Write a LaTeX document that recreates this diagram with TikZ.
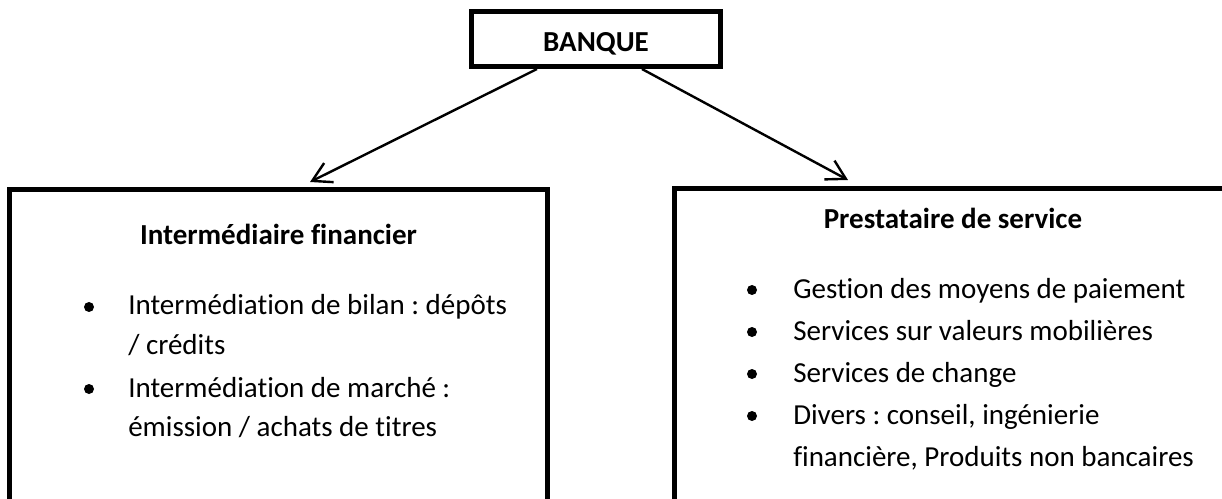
\documentclass[tikz,border=0pt]{standalone}
\usepackage{fontspec}
\setmainfont{Carlito}[Ligatures={NoCommon,NoContextual}]
\usetikzlibrary{arrows.meta}
\frenchspacing
\begin{document}
\begin{tikzpicture}[x=0.75pt,y=-0.75pt,
  frame/.style={draw, line width=3.75pt, inner sep=0pt},
  conn/.style={line width=1.8pt, -{Straight Barb[length=14pt,width=16pt,line width=1.8pt]}},
  txt/.style={inner sep=0pt, font=\fontsize{21.75pt}{31.5pt}\selectfont},
  head/.style={inner sep=0pt, font=\fontsize{21.75pt}{31.5pt}\selectfont\bfseries, anchor=base},
  item/.style={txt, anchor=base west},
  dot/.style={circle, fill, inner sep=0pt, minimum size=7.5pt}]
\useasboundingbox (0,0) rectangle (1222,499);
\clip (0,0) rectangle (1222,499);

% top box
\node[frame, minimum width=186.75pt, minimum height=40.9pt,
      text height=19.1pt, text depth=0pt,
      font=\fontsize{21.75pt}{31.5pt}\selectfont\bfseries] (banque) at (596,39.25) {BANQUE};

% the two role boxes (their lower and right sides run off the page)
\node[frame, minimum width=403.5pt, minimum height=277.9pt] (inter) at (278.5,374.75) {};
\node[frame, minimum width=417.75pt, minimum height=278.6pt] (presta) at (953,374.25) {};

% connectors
\coordinate (tipL) at (310,182);
\coordinate (tipR) at (848,180);
\draw[conn] ([xshift=-44.25pt]banque.south) -- (tipL);
\draw[conn] ([xshift=34.5pt]banque.south) -- (tipR);

% left box contents
\node[head] (interT) at (278.5,245) {Intermédiaire financier};
\node[dot] (bl1) at (89,307) {};
\node[item] (l1a) at (128,315) {Intermédiation de bilan : dépôts};
\node[item] (l1b) at (128,354) {/ crédits};
\node[dot] (bl2) at (89,389) {};
\node[item] (l2a) at (128,397) {Intermédiation de marché :};
\node[item] (l2b) at (128,436) {émission / achats de titres};

% right box contents
\node[head] (prestaT) at (953,229) {Prestataire de service};
\node[dot] (br1) at (752,290) {};
\node[item] (r1) at (793,298) {Gestion des moyens de paiement};
\node[dot] (br2) at (752,332) {};
\node[item] (r2) at (793,340) {Services sur valeurs mobilières};
\node[dot] (br3) at (752,374) {};
\node[item] (r3) at (793,382) {Services de change};
\node[dot] (br4) at (752,416) {};
\node[item] (r4a) at (793,424) {Divers : conseil, ingénierie};
\node[item] (r4b) at (793,466) {financière, Produits non bancaires};
\end{tikzpicture}
\end{document}
